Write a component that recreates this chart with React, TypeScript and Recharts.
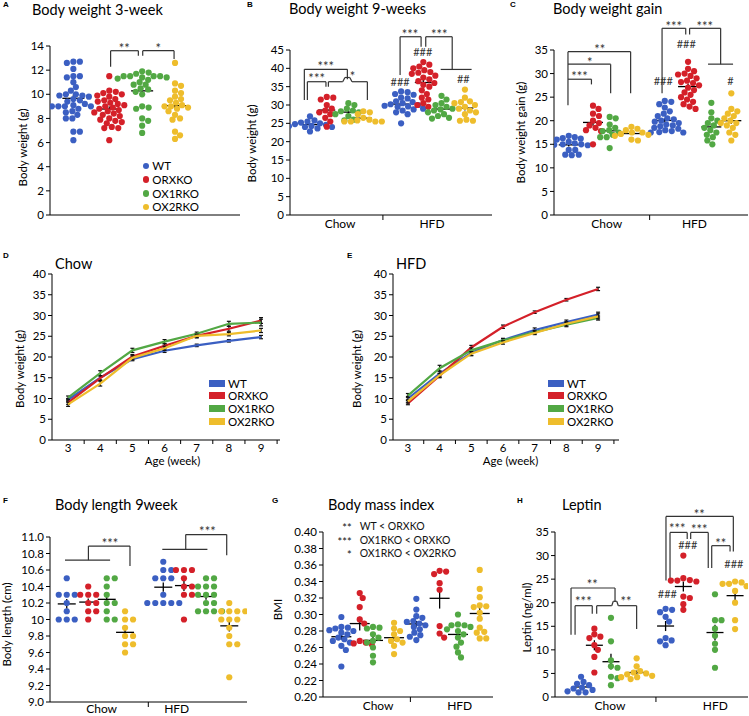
import React from "react";
import {
  ScatterChart,
  Scatter,
  LineChart,
  Line,
  XAxis,
  YAxis,
  ErrorBar,
  ReferenceLine,
  ReferenceDot,
  Legend,
} from "recharts";

const FONT = "Lato, 'Liberation Sans', Arial, sans-serif";
const COLORS = ["#3b5fc2", "#d42029", "#52a844", "#eebd2c"];
const genotypes = ["WT", "ORXKO", "OX1RKO", "OX2RKO"];
const weeks = [3, 4, 5, 6, 7, 8, 9];
const weekTicks = [3, 3.5, 4, 4.5, 5, 5.5, 6, 6.5, 7, 7.5, 8, 8.5, 9, 9.5];

// A - body weight at 3 weeks
const bw3Wt = [12.7, 12.7, 12.6, 12.1, 11.5, 11.5, 11.4, 11.0, 10.6, 10.3, 10.0, 10.0, 9.9, 9.8, 9.6, 9.5, 9.4, 9.2, 9.1, 9.0, 9.0, 9.0, 9.0, 8.8, 8.6, 8.5, 8.3, 8.0, 8.0, 9.9, 6.9, 6.9, 6.2];
const bw3Orx = [11.5, 10.3, 10.2, 10.1, 10.0, 9.9, 9.8, 9.6, 9.5, 9.4, 9.3, 9.2, 9.1, 9.0, 8.9, 8.8, 8.7, 8.6, 8.5, 8.4, 8.3, 8.2, 8.0, 7.9, 7.8, 7.7, 7.6, 7.3, 7.2, 7.2, 6.2];
const bw3Ox1 = [11.9, 11.8, 11.7, 11.5, 11.5, 11.5, 11.5, 11.4, 11.4, 11.3, 11.2, 11.0, 10.8, 10.8, 10.5, 10.4, 10.2, 10.0, 9.0, 8.9, 8.8, 8.0, 7.8, 7.4, 6.8];
const bw3Ox2 = [12.6, 10.9, 10.7, 10.3, 10.1, 9.8, 9.6, 9.5, 9.3, 9.1, 9.0, 9.0, 8.9, 8.8, 8.6, 8.3, 8.0, 7.9, 6.9, 6.6, 6.3];

// B - body weight at 9 weeks
const bw9ChowWt = [26.9, 25.8, 25.5, 25.2, 25.0, 24.8, 24.6, 24.3, 24.0, 23.6, 24.2, 24.0, 22.8];
const bw9ChowOrx = [32.2, 32.0, 31.5, 30.0, 29.0, 28.5, 28.0, 27.5, 26.5, 25.5, 24.1];
const bw9ChowOx1 = [30.5, 30.0, 29.0, 28.5, 28.3, 28.0, 27.5, 27.0, 26.0, 25.8];
const bw9ChowOx2 = [28.3, 28.0, 27.5, 26.5, 26.0, 25.8, 25.5, 25.5, 25.5, 25.5];
const bw9HfdWt = [33.7, 33.5, 33.0, 32.8, 32.0, 31.8, 31.0, 30.8, 30.5, 30.2, 30.0, 29.8, 29.6, 29.5, 29.0, 28.8, 28.5, 28.0, 27.5, 25.0];
const bw9HfdOrx = [41.7, 41.0, 40.5, 40.0, 39.5, 39.0, 38.5, 38.0, 37.5, 37.0, 36.5, 36.0, 35.5, 35.0, 34.0, 33.0, 32.0, 31.5, 30.5, 30.0, 29.5, 38.8];
const bw9HfdOx1 = [32.5, 31.5, 30.5, 30.0, 29.5, 29.0, 28.8, 28.5, 28.0, 27.5, 27.0, 26.5, 26.3];
const bw9HfdOx2 = [34.2, 32.0, 31.0, 30.8, 30.5, 30.0, 29.5, 29.0, 28.5, 28.0, 27.5, 26.0, 25.7, 25.7];

// C - body weight gain
const gainChowWt = [16.8, 16.5, 16.3, 16.2, 16.0, 15.5, 15.2, 15.0, 15.0, 14.9, 14.8, 13.8, 13.8, 12.8, 12.8, 12.7];
const gainChowOrx = [23.2, 22.5, 21.5, 21.0, 20.0, 19.5, 19.0, 18.5, 18.0, 17.8, 15.0];
const gainChowOx1 = [20.8, 20.5, 19.2, 18.5, 18.0, 17.8, 17.5, 17.0, 16.5, 16.5, 14.2];
const gainChowOx2 = [18.7, 18.3, 18.0, 17.5, 17.5, 17.2, 17.0, 16.8, 16.0, 15.8];
const gainHfdWt = [24.2, 24.0, 23.5, 22.8, 22.0, 21.5, 21.0, 20.5, 20.3, 20.0, 19.8, 19.5, 19.2, 19.0, 18.8, 18.5, 18.3, 18.0, 17.8, 17.6, 17.5, 17.5];
const gainHfdOrx = [32.5, 31.0, 30.5, 30.0, 29.8, 29.5, 29.0, 28.5, 28.2, 28.0, 27.5, 27.0, 26.5, 26.0, 25.5, 25.0, 24.5, 24.0, 23.5, 23.0, 22.5];
const gainHfdOx1 = [23.8, 21.8, 20.5, 20.0, 19.5, 19.0, 18.5, 18.0, 17.5, 17.0, 16.5, 15.8, 15.0];
const gainHfdOx2 = [25.8, 22.5, 22.0, 21.5, 21.0, 20.5, 20.0, 19.5, 19.5, 19.0, 18.5, 17.5, 17.0, 15.8];

// D / E - growth curves (mean and SEM per week)
const chowWt = [9.7, 15.0, 19.5, 21.5, 22.8, 23.9, 24.8];
const chowOrx = [9.0, 14.9, 20.1, 22.7, 25.1, 26.8, 28.8];
const chowOx1 = [10.2, 16.1, 21.6, 23.7, 25.6, 28.0, 28.3];
const chowOx2 = [8.6, 13.6, 19.8, 22.1, 25.1, 25.5, 26.4];
const chowWtSem = [0.3, 0.5, 0.4, 0.4, 0.3, 0.3, 0.4];
const chowOrxSem = [0.4, 0.6, 0.5, 0.5, 0.5, 0.6, 0.7];
const chowOx1Sem = [0.4, 0.6, 0.5, 0.5, 0.4, 0.6, 0.8];
const chowOx2Sem = [0.5, 0.6, 0.5, 0.5, 0.4, 0.4, 0.5];
const hfdWt = [10.0, 16.0, 21.0, 24.1, 26.5, 28.4, 30.2];
const hfdOrx = [8.8, 15.5, 22.3, 27.3, 30.8, 33.8, 36.4];
const hfdOx1 = [10.7, 17.3, 21.6, 24.0, 26.0, 27.8, 29.4];
const hfdOx2 = [9.3, 15.6, 20.8, 23.5, 25.8, 28.0, 29.8];
const hfdWtSem = [0.5, 0.6, 0.6, 0.4, 0.5, 0.5, 0.6];
const hfdOrxSem = [0.3, 0.5, 0.5, 0.4, 0.3, 0.3, 0.4];
const hfdOx1Sem = [0.5, 0.7, 0.6, 0.4, 0.4, 0.5, 0.5];
const hfdOx2Sem = [0.4, 0.5, 0.5, 0.4, 0.4, 0.5, 0.6];

// F - body length
const lenChowWt = [10.5, 10.3, 10.3, 10.3, 10.2, 10.1, 10.0, 10.0, 10.0];
const lenChowOrx = [10.4, 10.3, 10.3, 10.3, 10.2, 10.2, 10.1, 10.1, 10.0];
const lenChowOx1 = [10.5, 10.5, 10.4, 10.3, 10.2, 10.2, 10.1, 10.0, 10.0];
const lenChowOx2 = [10.1, 10.0, 10.0, 9.9, 9.8, 9.8, 9.7, 9.7, 9.6];
const lenHfdWt = [10.7, 10.6, 10.6, 10.5, 10.5, 10.5, 10.3, 10.2, 10.2, 10.2, 10.2, 10.2];
const lenHfdOrx = [10.6, 10.6, 10.6, 10.5, 10.4, 10.4, 10.3, 10.3, 10.0];
const lenHfdOx1 = [10.5, 10.5, 10.4, 10.4, 10.4, 10.3, 10.3, 10.3, 10.2, 10.2, 10.1, 10.1, 10.1, 10.1];
const lenHfdOx2 = [10.2, 10.1, 10.1, 10.1, 10.1, 10.0, 10.0, 10.0, 9.9, 9.8, 9.7, 9.7, 9.3];

// G - BMI
const bmiChowWt = [0.297, 0.285, 0.284, 0.283, 0.281, 0.28, 0.278, 0.276, 0.272, 0.27, 0.268, 0.266, 0.262, 0.257, 0.237];
const bmiChowOrx = [0.326, 0.32, 0.309, 0.294, 0.289, 0.268, 0.266, 0.265, 0.264];
const bmiChowOx1 = [0.285, 0.284, 0.283, 0.276, 0.272, 0.268, 0.266, 0.26, 0.25, 0.242];
const bmiChowOx2 = [0.29, 0.283, 0.28, 0.276, 0.27, 0.268, 0.266, 0.262, 0.252];
const bmiHfdWt = [0.319, 0.306, 0.298, 0.296, 0.292, 0.291, 0.289, 0.287, 0.285, 0.282, 0.278, 0.275, 0.273, 0.269];
const bmiHfdOrx = [0.353, 0.352, 0.349, 0.338, 0.33, 0.286, 0.277, 0.272];
const bmiHfdOx1 = [0.3, 0.288, 0.287, 0.287, 0.285, 0.282, 0.28, 0.276, 0.272, 0.266, 0.261, 0.254, 0.248];
const bmiHfdOx2 = [0.354, 0.331, 0.321, 0.311, 0.31, 0.309, 0.302, 0.295, 0.284, 0.279, 0.278, 0.271, 0.271];

// H - leptin
const lepChowWt = [4.3, 3.2, 2.8, 2.5, 2.0, 1.8, 1.5, 1.2, 1.0, 1.0];
const lepChowOrx = [14.5, 13.3, 12.8, 12.5, 11.0, 10.0, 8.5, 5.2];
const lepChowOx1 = [16.8, 11.8, 7.8, 6.5, 6.2, 4.3, 4.0, 2.5];
const lepChowOx2 = [8.2, 6.5, 5.5, 5.2, 5.0, 4.8, 4.5, 4.2, 4.2, 3.8];
const lepHfdWt = [18.7, 18.5, 18.0, 17.0, 16.0, 12.5, 12.0, 11.8, 11.0];
const lepHfdOrx = [30.0, 25.2, 24.8, 24.7, 24.7, 24.5, 21.3, 21.0, 19.7, 18.5];
const lepHfdOx1 = [21.8, 16.3, 16.3, 14.5, 13.0, 11.3, 10.0, 6.2];
const lepHfdOx2 = [24.5, 24.3, 24.0, 24.0, 23.5, 22.5, 20.0, 16.3, 14.4];

type Pt = [number, number];
type Note = [number, number, string];

const R = 3.1;

// simple beeswarm: spread points sideways (in px) so they do not pile up
function swarm(vals: number[], cx: number, pxX: number, pxY: number, sx: number, sy: number) {
  const placed: { ox: number; py: number }[] = [];
  const out: { x: number; y: number }[] = [];
  const order = [...vals].sort((a, b) => b - a);
  for (const v of order) {
    const py = v * pxY;
    let ox = 0;
    for (let k = 0; k < 600; k++) {
      const cand = (k % 2 === 1 ? 1 : -1) * Math.ceil(k / 2) * 0.5;
      const free = placed.every(
        (q) => ((q.ox - cand) / sx) ** 2 + ((q.py - py) / sy) ** 2 >= 1
      );
      if (free) {
        ox = cand;
        break;
      }
    }
    placed.push({ ox, py });
    out.push({ x: cx + ox / pxX, y: v });
  }
  return out;
}

function stats(vals: number[]) {
  const n = vals.length;
  const mean = vals.reduce((s, v) => s + v, 0) / n;
  const sd = Math.sqrt(vals.reduce((s, v) => s + (v - mean) ** 2, 0) / (n - 1));
  return { mean, sem: sd / Math.sqrt(n) };
}

const dietTick = (tp: any, t: number[], dy: number) => {
  const v = tp.payload.value;
  if (v === t[1]) {
    return <line x1={tp.x} x2={tp.x} y1={tp.y} y2={tp.y + 5} stroke="#000" />;
  }
  return (
    <text x={tp.x} y={tp.y + dy} textAnchor="middle" fontSize={12} fontFamily={FONT} fill="#000">
      {v === t[0] ? "Chow" : "HFD"}
    </text>
  );
};

const weekTick = (tp: any) => {
  const v = tp.payload.value;
  if (!Number.isInteger(v)) {
    return <line x1={tp.x} x2={tp.x} y1={tp.y} y2={tp.y + 4} stroke="#000" />;
  }
  return (
    <text x={tp.x} y={tp.y + 12} textAnchor="middle" fontSize={11.5} fontFamily={FONT} fill="#000">
      {v}
    </text>
  );
};

const DotLegend = () => (
  <div style={{ fontFamily: FONT, fontSize: 11.5, color: "#000" }}>
    {genotypes.map((g, i) => (
      <div key={g} style={{ display: "flex", alignItems: "center", height: 13.7 }}>
        <span style={{ display: "inline-block", width: 6.6, height: 6.6, borderRadius: "50%", background: COLORS[i], marginRight: 3 }} />
        {g}
      </div>
    ))}
  </div>
);

const LineLegend = () => (
  <div style={{ fontFamily: FONT, fontSize: 11.5, color: "#000" }}>
    {genotypes.map((g, i) => (
      <div key={g} style={{ display: "flex", alignItems: "center", height: 12.6 }}>
        <span style={{ display: "inline-block", width: 16, height: 7, background: COLORS[i], marginRight: 3 }} />
        {g}
      </div>
    ))}
  </div>
);

interface DotCfg {
  left: number;
  top: number;
  width: number;
  height: number;
  margin: { top: number; right: number; bottom: number; left: number };
  yAxisWidth: number;
  xAxisHeight: number;
  yDomain: [number, number];
  yTicks: number[];
  yFormat?: (v: number) => string;
  yLabel: string;
  yLabelDx: number;
  yLabelDy: number;
  centers: number[];
  groups: number[][];
  spread: [number, number];
  dietTicks?: number[];
  dietDy?: number;
  meanHalf: number;
  brackets: Pt[][];
  notes: Note[];
  sideNotes?: Note[];
  legend?: boolean;
}

function DotPanel({ cfg }: { cfg: DotCfg }) {
  const plotW = cfg.width - cfg.margin.left - cfg.margin.right - cfg.yAxisWidth;
  const plotH = cfg.height - cfg.margin.top - cfg.margin.bottom - cfg.xAxisHeight;
  const pxX = plotW / 10;
  const pxY = plotH / (cfg.yDomain[1] - cfg.yDomain[0]);
  const series = genotypes.map((_, gi) => {
    const pts: { x: number; y: number }[] = [];
    cfg.groups.forEach((vals, k) => {
      if (k % 4 === gi) pts.push(...swarm(vals, cfg.centers[k], pxX, pxY, cfg.spread[0], cfg.spread[1]));
    });
    return pts;
  });
  const meanSegs: [Pt, Pt][] = [];
  cfg.groups.forEach((vals, k) => {
    const { mean, sem } = stats(vals);
    const c = cfg.centers[k];
    const hw = cfg.meanHalf / pxX;
    meanSegs.push([[c - hw, mean], [c + hw, mean]]);
    meanSegs.push([[c, mean - sem], [c, mean + sem]]);
  });
  const brSegs: [Pt, Pt][] = [];
  cfg.brackets.forEach((path) => {
    for (let i = 0; i < path.length - 1; i++) brSegs.push([path[i], path[i + 1]]);
  });
  const dt = cfg.dietTicks;
  return (
    <div style={{ position: "absolute", left: cfg.left, top: cfg.top }}>
      <ScatterChart width={cfg.width} height={cfg.height} margin={cfg.margin}>
        <XAxis
          type="number"
          dataKey="x"
          domain={[0, 10]}
          allowDataOverflow
          height={cfg.xAxisHeight}
          ticks={dt ?? []}
          interval={0}
          tickLine={false}
          tickSize={0}
          tickMargin={0}
          axisLine={{ stroke: "#000" }}
          tick={dt ? (tp: any) => dietTick(tp, dt, cfg.dietDy ?? 13) : false}
        />
        <YAxis
          type="number"
          dataKey="y"
          domain={cfg.yDomain}
          allowDataOverflow
          ticks={cfg.yTicks}
          interval={0}
          width={cfg.yAxisWidth}
          tickSize={4}
          tickMargin={2}
          tickLine={{ stroke: "#000" }}
          axisLine={{ stroke: "#000" }}
          tick={{ fill: "#000", fontSize: 11.5, fontFamily: FONT }}
          tickFormatter={cfg.yFormat}
          label={{
            value: cfg.yLabel,
            angle: -90,
            position: "center",
            dx: cfg.yLabelDx,
            dy: cfg.yLabelDy,
            fontSize: 11.5,
            fontFamily: FONT,
            fill: "#000",
          }}
        />
        {series.map((pts, gi) => (
          <Scatter
            key={genotypes[gi]}
            name={genotypes[gi]}
            data={pts}
            fill={COLORS[gi]}
            isAnimationActive={false}
            shape={(sp: any) => <circle cx={sp.cx} cy={sp.cy} r={R} fill={COLORS[gi]} />}
          />
        ))}
        {meanSegs.map((s, i) => (
          <ReferenceLine
            key={"m" + i}
            segment={[{ x: s[0][0], y: s[0][1] }, { x: s[1][0], y: s[1][1] }]}
            stroke="#000"
            strokeWidth={1.3}
            ifOverflow="visible"
          />
        ))}
        {brSegs.map((s, i) => (
          <ReferenceLine
            key={"b" + i}
            segment={[{ x: s[0][0], y: s[0][1] }, { x: s[1][0], y: s[1][1] }]}
            stroke="#333"
            strokeWidth={1.2}
            ifOverflow="visible"
          />
        ))}
        {cfg.notes.map(([x, y, t], i) => (
          <ReferenceDot
            key={"n" + i}
            x={x}
            y={y}
            r={0}
            stroke="none"
            ifOverflow="visible"
            label={{
              value: t,
              position: "center",
              fontSize: t.includes("*") ? 13 : 11,
              dy: t.includes("*") ? 2.6 : 0,
              fontFamily: FONT,
              fill: "#333",
            }}
          />
        ))}
        {(cfg.sideNotes ?? []).map(([x, y, t], i) => (
          <ReferenceDot
            key={"s" + i}
            x={x}
            y={y}
            r={0}
            stroke="none"
            ifOverflow="visible"
            label={{
              value: t,
              position: t.includes("*") ? "left" : "right",
              offset: 4,
              fontSize: t.includes("*") ? 11 : 10.5,
              dy: t.includes("*") ? 2.2 : 0,
              fontFamily: FONT,
              fill: "#111",
            }}
          />
        ))}
        {cfg.legend && (
          <Legend
            layout="vertical"
            align="center"
            verticalAlign="middle"
            wrapperStyle={{ left: 142.7, top: 159, width: 90 }}
            content={() => <DotLegend />}
          />
        )}
      </ScatterChart>
    </div>
  );
}

interface LineCfg {
  left: number;
  top: number;
  width: number;
  height: number;
  margin: { top: number; right: number; bottom: number; left: number };
  yAxisWidth: number;
  yLabelDx: number;
  xLabelDx: number;
  domain: [number, number];
  series: number[][];
  sems: number[][];
  legendLeft: number;
}

function GrowthPanel({ cfg }: { cfg: LineCfg }) {
  const data = weeks.map((w, i) => {
    const row: Record<string, number> = { week: w };
    cfg.series.forEach((s, k) => {
      row["s" + k] = s[i];
      row["e" + k] = cfg.sems[k][i];
    });
    return row;
  });
  return (
    <div style={{ position: "absolute", left: cfg.left, top: cfg.top }}>
      <LineChart width={cfg.width} height={cfg.height} margin={cfg.margin} data={data}>
        <XAxis
          type="number"
          dataKey="week"
          domain={cfg.domain}
          allowDataOverflow
          ticks={weekTicks}
          interval={0}
          height={40}
          tickLine={false}
          tickSize={0}
          tickMargin={0}
          axisLine={{ stroke: "#000" }}
          tick={weekTick}
          label={{
            value: "Age (week)",
            position: "insideBottom",
            offset: 15,
            dx: cfg.xLabelDx,
            fontSize: 11.5,
            fontFamily: FONT,
            fill: "#000",
          }}
        />
        <YAxis
          type="number"
          domain={[0, 40]}
          ticks={[0, 5, 10, 15, 20, 25, 30, 35, 40]}
          interval={0}
          width={cfg.yAxisWidth}
          tickSize={4}
          tickMargin={2}
          tickLine={{ stroke: "#000" }}
          axisLine={{ stroke: "#000" }}
          tick={{ fill: "#000", fontSize: 11.5, fontFamily: FONT }}
          label={{
            value: "Body weight (g)",
            angle: -90,
            position: "center",
            dx: cfg.yLabelDx,
            dy: 12,
            fontSize: 11.5,
            fontFamily: FONT,
            fill: "#000",
          }}
        />
        {genotypes.map((g, i) => (
          <Line
            key={g}
            name={g}
            dataKey={"s" + i}
            stroke={COLORS[i]}
            strokeWidth={2.2}
            dot={false}
            isAnimationActive={false}
          >
            <ErrorBar dataKey={"e" + i} width={2} stroke="#111" strokeWidth={1.2} direction="y" />
          </Line>
        ))}
        <Legend
          layout="vertical"
          align="center"
          verticalAlign="middle"
          wrapperStyle={{ left: cfg.legendLeft, top: 142, width: 90 }}
          content={() => <LineLegend />}
        />
      </LineChart>
    </div>
  );
}

const panelA: DotCfg = {
  left: 0, top: 0, width: 245, height: 235,
  margin: { top: 46, right: 5, bottom: 0, left: 0 },
  yAxisWidth: 50, xAxisHeight: 20,
  yDomain: [0, 14], yTicks: [0, 2, 4, 6, 8, 10, 12, 14],
  yLabel: "Body weight (g)", yLabelDx: -2, yLabelDy: 17,
  centers: [1.23, 3.12, 4.85, 6.58],
  groups: [bw3Wt, bw3Orx, bw3Ox1, bw3Ox2],
  spread: [6.4, 5.2],
  meanHalf: 11,
  brackets: [
    [[3.19, 12.29], [3.19, 13.61], [4.65, 13.61], [4.65, 13.2]],
    [[4.88, 13.2], [4.88, 13.61], [6.53, 13.61], [6.53, 12.92]],
  ],
  notes: [[3.91, 14.03, "**"], [5.7, 14.03, "*"]],
  legend: true,
};

const panelB: DotCfg = {
  left: 245, top: 0, width: 250, height: 235,
  margin: { top: 50, right: 3, bottom: 0, left: 0 },
  yAxisWidth: 45, xAxisHeight: 20,
  yDomain: [0, 45], yTicks: [0, 5, 10, 15, 20, 25, 30, 35, 40, 45],
  yLabel: "Body weight (g)", yLabelDx: -15.5, yLabelDy: 11,
  centers: [0.99, 1.82, 2.89, 3.63, 5.5, 6.6, 7.5, 8.66],
  groups: [bw9ChowWt, bw9ChowOrx, bw9ChowOx1, bw9ChowOx2, bw9HfdWt, bw9HfdOrx, bw9HfdOx1, bw9HfdOx2],
  spread: [6.2, 5.6],
  dietTicks: [2.48, 4.6, 7.03],
  meanHalf: 8.5,
  brackets: [
    [[0.71, 31.36], [0.71, 39.73], [2.84, 39.73], [2.84, 37.0]],
    [[0.86, 31.36], [0.86, 36.35], [1.78, 36.35], [1.78, 34.99]],
    [[1.9, 34.99], [1.9, 36.35], [2.61, 36.35], [2.72, 37.5], [2.96, 37.5], [3.07, 36.35], [3.83, 36.35], [3.83, 31.36]],
    [[5.45, 38.2], [5.45, 48.62], [6.49, 48.62], [6.49, 45.9]],
    [[6.72, 45.9], [6.72, 48.62], [8.03, 48.62], [8.03, 39.7]],
    [[7.46, 39.7], [8.99, 39.7]],
  ],
  notes: [
    [1.77, 41.37, "***"], [1.32, 37.9, "***"], [3.1, 38.64, "*"],
    [5.94, 50.0, "***"], [7.39, 50.0, "***"],
    [5.45, 36.35, "###"], [6.57, 44.35, "###"], [8.58, 37.1, "##"],
  ],
};

const panelC: DotCfg = {
  left: 495, top: 0, width: 254, height: 235,
  margin: { top: 50, right: 1, bottom: 0, left: 0 },
  yAxisWidth: 59, xAxisHeight: 20,
  yDomain: [0, 35], yTicks: [0, 5, 10, 15, 20, 25, 30, 35],
  yLabel: "Body weight gain (g)", yLabelDx: -3.5, yLabelDy: 0,
  centers: [0.76, 2.01, 2.87, 3.99, 5.71, 6.91, 8.11, 9.14],
  groups: [gainChowWt, gainChowOrx, gainChowOx1, gainChowOx2, gainHfdWt, gainHfdOrx, gainHfdOx1, gainHfdOx2],
  spread: [6.2, 5.6],
  dietTicks: [2.72, 4.93, 7.24],
  meanHalf: 10,
  brackets: [
    [[0.72, 23.3], [0.72, 34.65], [3.95, 34.65], [3.95, 25.8]],
    [[0.72, 32.0], [2.92, 32.0], [2.92, 25.8]],
    [[0.72, 28.8], [1.93, 28.8], [1.93, 27.7]],
    [[5.57, 25.8], [5.57, 39.6], [6.79, 39.6], [6.79, 38.3]],
    [[6.99, 38.3], [6.99, 39.6], [8.59, 39.6], [8.59, 32.0]],
    [[7.94, 32.0], [9.23, 32.0]],
  ],
  notes: [
    [2.36, 35.7, "**"], [1.84, 33.0, "*"], [1.32, 29.9, "***"],
    [6.17, 40.5, "***"], [7.77, 40.5, "***"],
    [5.63, 28.5, "###"], [6.82, 36.2, "###"], [9.09, 28.5, "#"],
  ],
};

const panelF: DotCfg = {
  left: 0, top: 480, width: 250, height: 236,
  margin: { top: 57, right: 3, bottom: 0, left: 0 },
  yAxisWidth: 50, xAxisHeight: 14,
  yDomain: [9, 11], yTicks: [9, 9.2, 9.4, 9.6, 9.8, 10, 10.2, 10.4, 10.6, 10.8, 11],
  yFormat: (v: number) => (v === 10 ? "10" : v.toFixed(1)),
  yLabel: "Body length (cm)", yLabelDx: -18, yLabelDy: 5,
  centers: [0.85, 1.94, 2.88, 3.81, 5.75, 6.8, 7.92, 9.1],
  groups: [lenChowWt, lenChowOrx, lenChowOx1, lenChowOx2, lenHfdWt, lenHfdOrx, lenHfdOx1, lenHfdOx2],
  spread: [8, 6],
  dietTicks: [2.62, 4.99, 6.43],
  dietDy: 10.5,
  meanHalf: 9,
  brackets: [
    [[0.76, 10.72], [3.05, 10.72]],
    [[1.95, 10.72], [1.95, 10.89], [4.06, 10.89], [4.06, 10.65]],
    [[5.7, 10.85], [7.99, 10.85]],
    [[6.89, 10.85], [6.89, 11.03], [8.97, 11.03], [8.97, 10.78]],
  ],
  notes: [[3.05, 10.96, "***"], [7.99, 11.1, "***"]],
};

const panelG: DotCfg = {
  left: 250, top: 480, width: 249, height: 236,
  margin: { top: 52, right: 6, bottom: 0, left: 0 },
  yAxisWidth: 73, xAxisHeight: 19,
  yDomain: [0.2, 0.4], yTicks: [0.2, 0.22, 0.24, 0.26, 0.28, 0.3, 0.32, 0.34, 0.36, 0.38, 0.4],
  yFormat: (v: number) => v.toFixed(2),
  yLabel: "BMI", yLabelDx: -8.5, yLabelDy: -5,
  centers: [1.08, 2.16, 2.94, 4.18, 5.49, 6.86, 7.94, 9.22],
  groups: [bmiChowWt, bmiChowOrx, bmiChowOx1, bmiChowOx2, bmiHfdWt, bmiHfdOrx, bmiHfdOx1, bmiHfdOx2],
  spread: [6.2, 5.6],
  dietTicks: [3.24, 5.14, 8.04],
  meanHalf: 10,
  brackets: [],
  notes: [],
  sideNotes: [
    [1.92, 0.4068, "**"], [1.92, 0.4068, "WT < ORXKO"],
    [1.92, 0.3905, "***"], [1.92, 0.3905, "OX1RKO < ORXKO"],
    [1.92, 0.3742, "*"], [1.92, 0.3742, "OX1RKO < OX2RKO"],
  ],
};

const panelH: DotCfg = {
  left: 499, top: 480, width: 250, height: 236,
  margin: { top: 52, right: 1, bottom: 0, left: 0 },
  yAxisWidth: 56, xAxisHeight: 19,
  yDomain: [0, 35], yTicks: [0, 5, 10, 15, 20, 25, 30, 35],
  yLabel: "Leptin (ng/ml)", yLabelDx: 0, yLabelDy: 3,
  centers: [1.35, 2.04, 2.9, 4.23, 5.73, 6.65, 8.29, 9.33],
  groups: [lepChowWt, lepChowOrx, lepChowOx1, lepChowOx2, lepHfdWt, lepHfdOrx, lepHfdOx1, lepHfdOx2],
  spread: [6.4, 5.6],
  dietTicks: [2.85, 5.23, 8.31],
  meanHalf: 8.5,
  brackets: [
    [[0.83, 13.2], [0.83, 23.12], [3.11, 23.12], [3.11, 20.2]],
    [[1.04, 13.2], [1.04, 19.37], [1.93, 19.37], [1.93, 17.67]],
    [[2.16, 17.67], [2.16, 19.37], [2.94, 19.37], [3.02, 20.3], [3.2, 20.3], [3.28, 19.37], [4.23, 19.37], [4.23, 14.42]],
    [[5.75, 24.73], [5.75, 38.31], [9.24, 38.31], [9.24, 30.89]],
    [[5.96, 24.73], [5.96, 34.92], [6.85, 34.92], [6.85, 33.52]],
    [[7.03, 33.52], [7.03, 34.92], [7.94, 34.92], [7.94, 27.37]],
    [[8.12, 27.37], [8.12, 32.1], [9.07, 32.1], [9.07, 30.89]],
  ],
  notes: [
    [1.93, 24.52, "**"], [1.47, 20.8, "***"], [3.68, 20.8, "**"],
    [7.48, 39.24, "**"], [6.34, 36.4, "***"], [7.48, 36.06, "***"], [8.59, 33.22, "**"],
    [6.88, 32.16, "###"], [9.27, 28.28, "###"], [5.82, 21.91, "###"],
  ],
};

const panelD: LineCfg = {
  left: 0, top: 235, width: 370, height: 245,
  margin: { top: 39, right: 90, bottom: 0, left: 0 },
  yAxisWidth: 52, yLabelDx: -6, xLabelDx: 6.5,
  domain: [2.5, 9.59],
  series: [chowWt, chowOrx, chowOx1, chowOx2],
  sems: [chowWtSem, chowOrxSem, chowOx1Sem, chowOx2Sem],
  legendLeft: 209,
};

const panelE: LineCfg = {
  left: 340, top: 235, width: 409, height: 245,
  margin: { top: 39, right: 130, bottom: 0, left: 0 },
  yAxisWidth: 53, yLabelDx: -9.5, xLabelDx: 4.5,
  domain: [2.53, 9.66],
  series: [hfdWt, hfdOrx, hfdOx1, hfdOx2],
  sems: [hfdWtSem, hfdOrxSem, hfdOx1Sem, hfdOx2Sem],
  legendLeft: 208,
};

const titles: [number, number, string][] = [
  [32, 10, "Body weight 3-week"],
  [289, 9, "Body weight 9-weeks"],
  [553, 9, "Body weight gain"],
  [55, 264, "Chow"],
  [396, 264, "HFD"],
  [55, 505, "Body length 9week"],
  [328, 505, "Body mass index"],
  [562, 505, "Leptin"],
];

const letters: [number, number, string][] = [
  [3, 5, "A"], [247, 5, "B"], [510, 5, "C"], [3, 256, "D"],
  [347, 256, "E"], [3, 501, "F"], [272, 501, "G"], [517, 501, "H"],
];

export default function App() {
  return (
    <div
      style={{
        position: "absolute",
        left: 0,
        top: 0,
        width: 749,
        height: 716,
        background: "#fff",
        overflow: "hidden",
        fontFamily: FONT,
      }}
    >
      {titles.map(([x, cy, t]) => (
        <div key={t} style={{ position: "absolute", left: x, top: cy - 9, fontSize: 14.5, lineHeight: "18px", whiteSpace: "nowrap", color: "#000" }}>
          {t}
        </div>
      ))}
      {letters.map(([x, cy, t]) => (
        <div key={t} style={{ position: "absolute", left: x, top: cy - 5, fontSize: 8, lineHeight: "10px", fontWeight: 700, fontFamily: "'Liberation Sans', Arial, sans-serif", color: "#000" }}>
          {t}
        </div>
      ))}
      <DotPanel cfg={panelA} />
      <DotPanel cfg={panelB} />
      <DotPanel cfg={panelC} />
      <GrowthPanel cfg={panelD} />
      <GrowthPanel cfg={panelE} />
      <DotPanel cfg={panelF} />
      <DotPanel cfg={panelG} />
      <DotPanel cfg={panelH} />
    </div>
  );
}
